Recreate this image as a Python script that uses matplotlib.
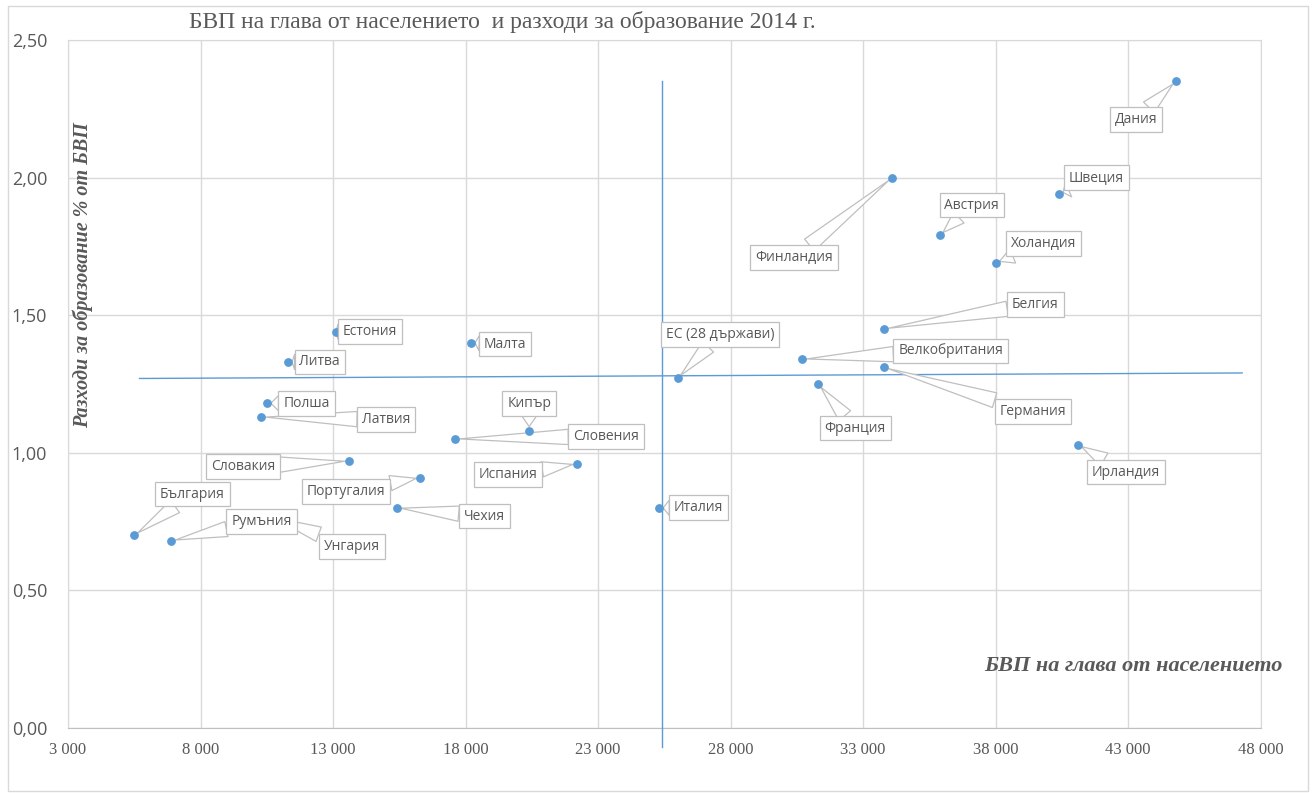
import matplotlib.pyplot as plt
from matplotlib.patches import Rectangle

# данни: държави, БВП на глава от населението и разходи за образование (% от БВП)
countries = ['Дания', 'Швеция', 'Финландия', 'Австрия', 'Холандия', 'Белгия',
             'Велкобритания', 'Германия', 'Франция', 'Ирландия', 'ЕС (28 държави)',
             'Италия', 'Естония', 'Литва', 'Малта', 'Полша', 'Латвия', 'Кипър',
             'Словения', 'Словакия', 'Испания', 'Португалия', 'Чехия', 'България',
             'Румъния', 'Унгария']
gdp = [44800, 40400, 34100, 35900, 38000, 33800,
       30700, 33800, 31300, 41100, 26000,
       25300, 13100, 11300, 18200, 10500, 10300, 20400,
       17600, 13600, 22200, 16300, 15400, 5500,
       6900, 10600]
edu = [2.35, 1.94, 2.00, 1.79, 1.69, 1.45,
       1.34, 1.31, 1.25, 1.03, 1.27,
       0.80, 1.44, 1.33, 1.40, 1.18, 1.13, 1.08,
       1.05, 0.97, 0.96, 0.91, 0.80, 0.70,
       0.68, 0.77]

# линии за средните стойности (ЕС)
vline_x = [25400, 25400]
vline_y = [-0.07, 2.35]
hline_x = [5700, 47300]
hline_y = [1.27, 1.29]

# оси
xticks = [3000, 8000, 13000, 18000, 23000, 28000, 33000, 38000, 43000, 48000]
yticks = [0.0, 0.5, 1.0, 1.5, 2.0, 2.5]

# къде стоят етикетите (позиции на кутийките)
label_pos = [(43300, 2.21), (41800, 2.00), (30400, 1.71), (37100, 1.90), (39800, 1.76),
             (39500, 1.54), (36300, 1.37), (39400, 1.15), (32700, 1.09), (42900, 0.93),
             (27600, 1.43), (26800, 0.80), (14400, 1.44), (12500, 1.33), (19500, 1.395),
             (12000, 1.18), (15000, 1.12), (20400, 1.18), (23300, 1.06), (9600, 0.95),
             (19600, 0.92), (13500, 0.86), (18700, 0.77), (7700, 0.85), (10300, 0.75),
             (13700, 0.66)]

blue = '#5B9BD5'
grey_text = '#595959'
grid_col = '#D9D9D9'
box_col = '#BFBFBF'

fig = plt.figure(figsize=(13.15, 7.93), dpi=100)
ax = fig.add_axes([0.0517, 0.082, 0.907, 0.8676])

# рамка около цялата диаграма
fig.patches.append(Rectangle((0.006, 0.003), 0.989, 0.99, transform=fig.transFigure,
                             fill=False, ec=grid_col, lw=1))

ax.scatter(gdp, edu, s=28, color=blue, zorder=5, clip_on=False)

ax.plot(vline_x, vline_y, color=blue, lw=1, clip_on=False, zorder=3)
ax.plot(hline_x, hline_y, color=blue, lw=1, clip_on=False, zorder=3)

lbl_font = dict(fontsize=10, family='Open Sans', ha='center', va='center')
box_style = 'square,pad=0.35'

# първо "опашките" (невидим текст, само стрелката), после кутийките отгоре
for name, x, y, (lx, ly) in zip(countries, gdp, edu, label_pos):
    ax.annotate(name, xy=(x, y), xytext=(lx, ly), color='none', zorder=4, **lbl_font,
                bbox=dict(boxstyle=box_style, fc='none', ec='none'),
                arrowprops=dict(arrowstyle='wedge,tail_width=1.1', fc='white',
                                ec=box_col, lw=0.9, shrinkA=0, shrinkB=3))
for name, (lx, ly) in zip(countries, label_pos):
    ax.text(lx, ly, name, color=grey_text, zorder=6, **lbl_font,
            bbox=dict(boxstyle=box_style, fc='white', ec=box_col, lw=0.9))

ax.set_xlim(3000, 48000)
ax.set_ylim(0, 2.5)
ax.set_xticks(xticks)
ax.set_yticks(yticks)
ax.set_xticklabels([f'{v:,}'.replace(',', ' ') for v in xticks],
                   family='Liberation Serif', fontsize=12, color=grey_text)
ax.set_yticklabels([f'{v:.2f}'.replace('.', ',') for v in yticks],
                   family='Open Sans', fontsize=13, color=grey_text)
ax.tick_params(axis='both', length=0)
ax.tick_params(axis='x', pad=10)
ax.tick_params(axis='y', pad=15)

ax.grid(True, color=grid_col, lw=1)
ax.set_axisbelow(True)
for side in ['top', 'right', 'left']:
    ax.spines[side].set_color(grid_col)
ax.spines['bottom'].set_color(box_col)

# заглавие и надписи на осите
fig.text(0.382, 0.972, 'БВП на глава от населението  и разходи за образование 2014 г.',
         ha='center', va='center', family='Liberation Serif', fontsize=17, color=grey_text)
ax.text(0.0125, 0.658, 'Разходи за образование % от БВП', transform=ax.transAxes,
        rotation=90, ha='center', va='center', family='Liberation Serif',
        fontsize=14.5, fontweight='bold', style='italic', color=grey_text)
ax.text(1.018, 0.09, 'БВП на глава от населението', transform=ax.transAxes,
        ha='right', va='center', family='Liberation Serif',
        fontsize=16, fontweight='bold', style='italic', color=grey_text)

fig.savefig('out.png', dpi=100)
